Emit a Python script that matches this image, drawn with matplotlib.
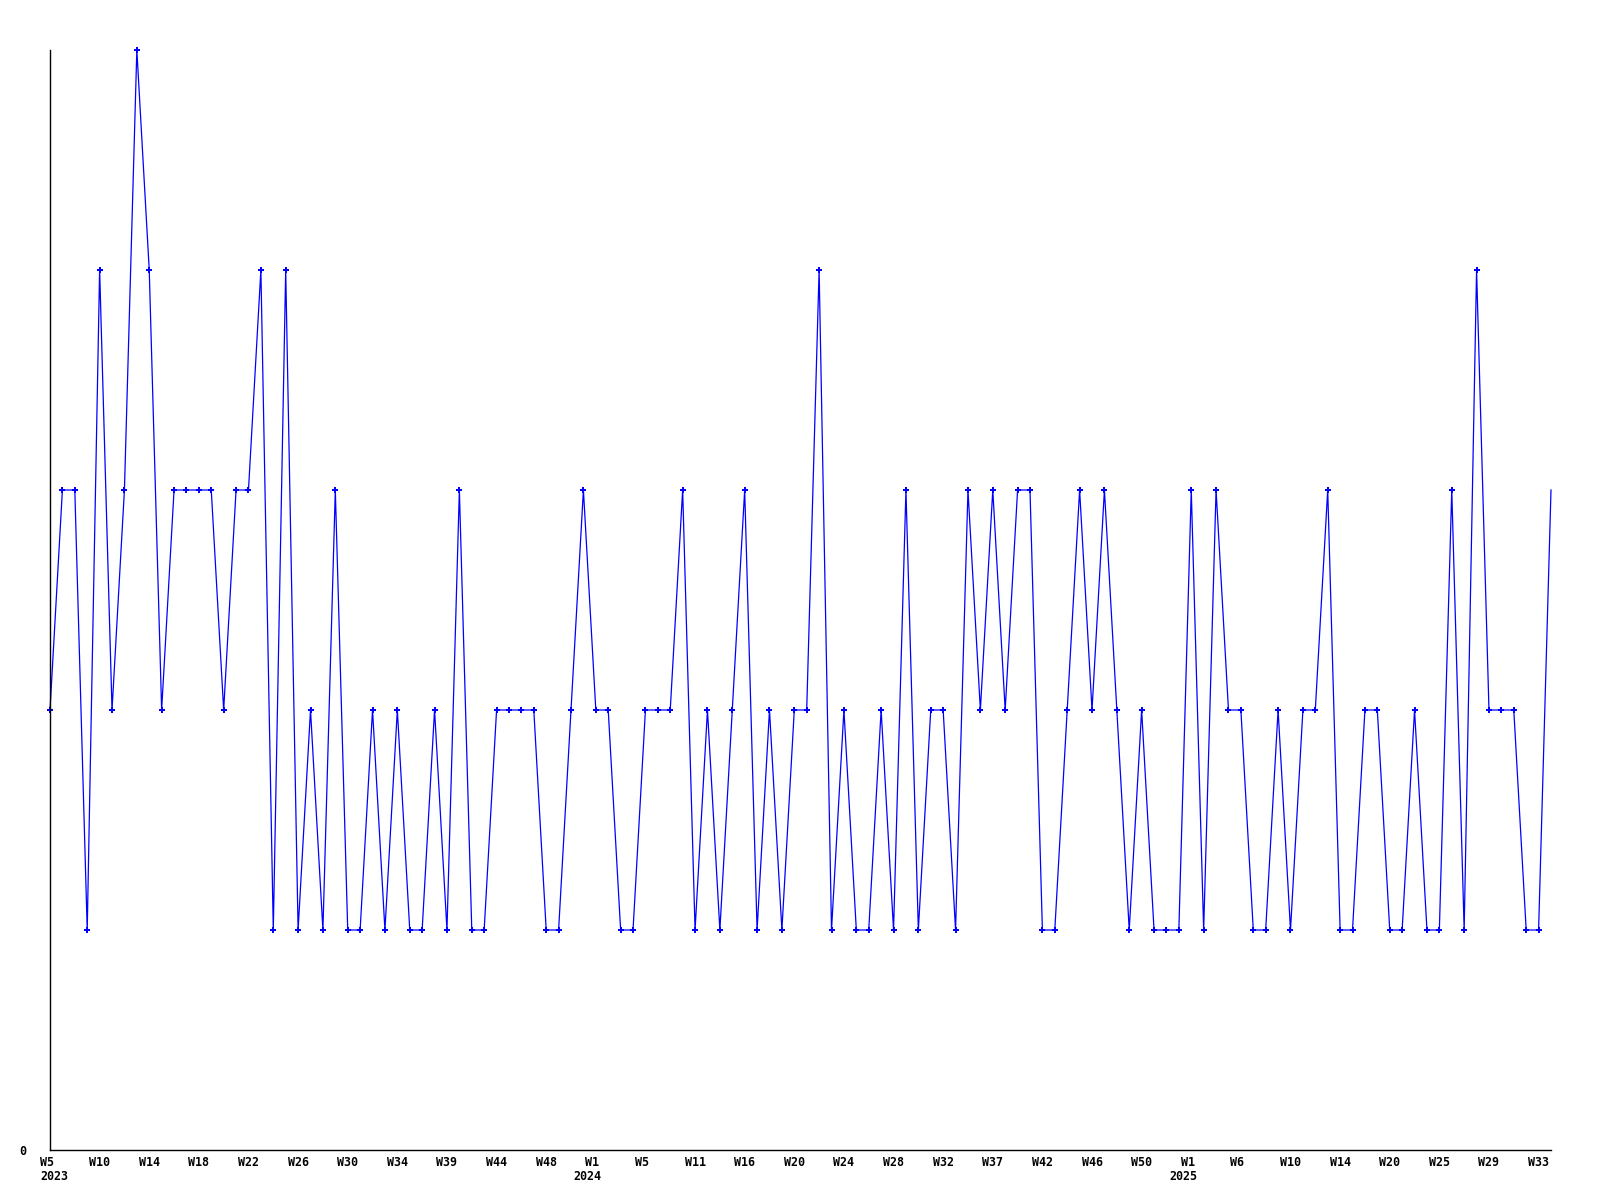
import numpy as np
import matplotlib
matplotlib.use("Agg")
from matplotlib import pyplot as plt


# weekly values, one per point (categorical x axis)
values = [2, 3, 3, 1, 4, 2, 3, 5, 4, 2,
          3, 3, 3, 3, 2, 3, 3, 4, 1, 4,
          1, 2, 1, 3, 1, 1, 2, 1, 2, 1,
          1, 2, 1, 3, 1, 1, 2, 2, 2, 2,
          1, 1, 2, 3, 2, 2, 1, 1, 2, 2,
          2, 3, 1, 2, 1, 2, 3, 1, 2, 1,
          2, 2, 4, 1, 2, 1, 1, 2, 1, 3,
          1, 2, 2, 1, 3, 2, 3, 2, 3, 3,
          1, 1, 2, 3, 2, 3, 2, 1, 2, 1,
          1, 1, 3, 1, 3, 2, 2, 1, 1, 2,
          1, 2, 2, 3, 1, 1, 2, 2, 1, 1,
          2, 1, 1, 3, 1, 4, 2, 2, 2, 1,
          1, 3]

# every 4th point gets a week label
week_labels = ["W5", "W10", "W14", "W18", "W22", "W26", "W30", "W34", "W39",
               "W44", "W48", "W1", "W5", "W11", "W16", "W20", "W24", "W28",
               "W32", "W37", "W42", "W46", "W50", "W1", "W6", "W10", "W14",
               "W20", "W25", "W29", "W33"]
label_step = 4

years = ["2023", "2024", "2025"]
year_index = [0, 44, 92]

font = dict(family="DejaVu Sans Mono", weight="bold", size=8.4)

fig = plt.figure(figsize=(16, 12), dpi=100)
ax = fig.add_axes([50 / 1600, 50 / 1200, 1501 / 1600, 1100 / 1200])

x = np.arange(len(values))
ax.plot(x, values, color="#0000ff", lw=0.9, marker="P", ms=4.2, mew=0,
        markevery=slice(0, len(values) - 1), clip_on=False)

ax.set_xlim(0, len(values) - 1)
ax.set_ylim(0, 5)

for s in ["top", "right"]:
    ax.spines[s].set_visible(False)
for s in ["left", "bottom"]:
    ax.spines[s].set_linewidth(1.0)
    ax.spines[s].set_color("black")

ax.set_xticks([])
ax.set_yticks([0])
ax.set_yticklabels(["0"], **font)
ax.tick_params(axis="y", length=0, pad=17)

trans = ax.get_xaxis_transform()
for k, lab in enumerate(week_labels):
    i = k * label_step
    ax.annotate(lab, xy=(i, 0), xycoords=trans, xytext=(-10.5, -12),
                textcoords="offset pixels", ha="left", va="center",
                annotation_clip=False, **font)

for yr, i in zip(years, year_index):
    dx = -10 if i == 0 else -22
    ax.annotate(yr, xy=(i, 0), xycoords=trans, xytext=(dx, -27),
                textcoords="offset pixels", ha="left", va="center",
                annotation_clip=False, **font)

fig.savefig("out.png", dpi=100)
